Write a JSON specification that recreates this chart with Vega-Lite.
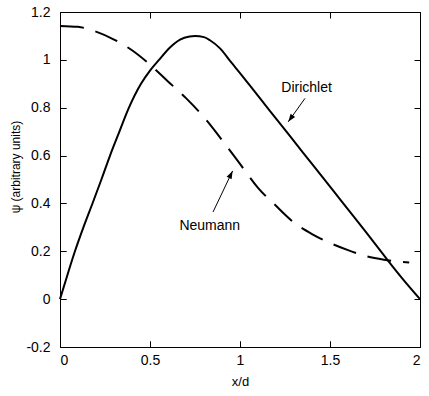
{
  "$schema": "https://vega.github.io/schema/vega-lite/v6.json",
  "autosize": "none",
  "width": 360,
  "height": 335,
  "padding": {"left": 60, "top": 12, "right": 9, "bottom": 49},
  "background": "white",
  "config": {
    "view": {"stroke": "black", "strokeWidth": 1},
    "axis": {
      "grid": false, "domain": false, "ticks": true, "tickColor": "black", "tickOpacity": 1, "tickSize": 6, "tickWidth": 1, "offset": -6,
      "labelFont": "Liberation Sans", "labelFontSize": 14, "labelColor": "black",
      "titleFont": "Liberation Sans", "titleFontWeight": "normal", "titleColor": "black", "titleFontSize": 13
    }
  },
  "datasets": {
    "dirichlet": [
      {"x": 0, "y": 0}, {"x": 0.04, "y": 0.098}, {"x": 0.083, "y": 0.2}, {"x": 0.13, "y": 0.3},
      {"x": 0.183, "y": 0.405}, {"x": 0.23, "y": 0.5}, {"x": 0.278, "y": 0.6}, {"x": 0.33, "y": 0.7},
      {"x": 0.38, "y": 0.795}, {"x": 0.45, "y": 0.9}, {"x": 0.5, "y": 0.955}, {"x": 0.55, "y": 1.0},
      {"x": 0.611, "y": 1.052}, {"x": 0.667, "y": 1.085}, {"x": 0.72, "y": 1.098}, {"x": 0.75, "y": 1.1},
      {"x": 0.8, "y": 1.095}, {"x": 0.833, "y": 1.082}, {"x": 0.889, "y": 1.048}, {"x": 0.954, "y": 0.987},
      {"x": 1.0, "y": 0.945}, {"x": 1.083, "y": 0.866}, {"x": 1.167, "y": 0.786}, {"x": 1.278, "y": 0.681},
      {"x": 1.4, "y": 0.565}, {"x": 1.519, "y": 0.452}, {"x": 1.6, "y": 0.375}, {"x": 1.7, "y": 0.28},
      {"x": 1.815, "y": 0.168}, {"x": 1.9, "y": 0.088}, {"x": 2.0, "y": 0.0}
    ],
    "neumann": [
      {"x": 0, "y": 1.142}, {"x": 0.1, "y": 1.138}, {"x": 0.2, "y": 1.118}, {"x": 0.3, "y": 1.085},
      {"x": 0.4, "y": 1.04}, {"x": 0.5, "y": 0.98}, {"x": 0.6, "y": 0.91}, {"x": 0.7, "y": 0.84},
      {"x": 0.8, "y": 0.76}, {"x": 0.9, "y": 0.665}, {"x": 1.0, "y": 0.565}, {"x": 1.1, "y": 0.465},
      {"x": 1.2, "y": 0.39}, {"x": 1.3, "y": 0.32}, {"x": 1.4, "y": 0.272}, {"x": 1.5, "y": 0.235},
      {"x": 1.6, "y": 0.205}, {"x": 1.7, "y": 0.18}, {"x": 1.8, "y": 0.165}, {"x": 1.94, "y": 0.153}
    ],
    "arrows": [
      {"label": "Dirichlet", "x": 1.361, "y": 0.839, "x2": 1.268, "y2": 0.741, "angle": 215.5, "tx": 1.37, "ty": 0.882},
      {"label": "Neumann", "x": 0.85, "y": 0.364, "x2": 0.959, "y2": 0.536, "angle": 26, "tx": 0.832, "ty": 0.306}
    ]
  },
  "layer": [
    {
      "data": {"name": "dirichlet"},
      "mark": {"type": "line", "color": "black", "strokeWidth": 2, "interpolate": "monotone"},
      "encoding": {
        "x": {"field": "x", "type": "quantitative",
              "scale": {"domain": [0, 2], "nice": false, "zero": false},
              "axis": {"orient": "bottom", "values": [0, 0.5, 1, 1.5, 2], "format": "~g", "labelPadding": 6, "ticks": true,
                       "title": "x/d", "titleY": 40, "titleBaseline": "middle"}},
        "y": {"field": "y", "type": "quantitative",
              "scale": {"domain": [-0.2, 1.2], "nice": false, "zero": false},
              "axis": {"orient": "left", "values": [-0.2, 0, 0.2, 0.4, 0.6, 0.8, 1, 1.2], "labelPadding": 10, "ticks": true,
                       "labelExpr": "datum.value < 0 ? '-' + format(-datum.value, '~g') : format(datum.value, '~g')",
                       "title": "ψ (arbitrary units)", "titleX": -51, "titleY": 154.5, "titleBaseline": "middle", "titleAngle": -90, "titleFontSize": 12}}
      }
    },
    {
      "data": {"name": "neumann"},
      "mark": {"type": "line", "color": "black", "strokeWidth": 2, "strokeDash": [24, 12], "interpolate": "monotone"},
      "encoding": {
        "x": {"field": "x", "type": "quantitative", "axis": null},
        "y": {"field": "y", "type": "quantitative", "axis": null}
      }
    },
    {
      "data": {"name": "neumann"},
      "mark": {"type": "point", "opacity": 0},
      "encoding": {
        "x": {"field": "x", "type": "quantitative",
              "axis": {"orient": "top", "values": [0, 0.5, 1, 1.5, 2], "labels": false, "title": null}},
        "y": {"field": "y", "type": "quantitative",
              "axis": {"orient": "right", "values": [-0.2, 0, 0.2, 0.4, 0.6, 0.8, 1, 1.2], "labels": false, "title": null}}
      }
    },
    {
      "data": {"name": "dirichlet"},
      "mark": {"type": "point", "opacity": 0},
      "encoding": {
        "x": {"field": "x", "type": "quantitative",
              "axis": {"orient": "bottom", "values": [0, 0.5, 1, 1.5, 2], "labels": false, "title": null, "ticks": true}},
        "y": {"field": "y", "type": "quantitative",
              "axis": {"orient": "left", "values": [-0.2, 0, 0.2, 0.4, 0.6, 0.8, 1, 1.2], "labels": false, "title": null, "ticks": true}}
      }
    },
    {
      "data": {"name": "arrows"},
      "mark": {"type": "rule", "color": "black", "strokeWidth": 1},
      "encoding": {
        "x": {"field": "x", "type": "quantitative", "axis": null},
        "y": {"field": "y", "type": "quantitative", "axis": null},
        "x2": {"field": "x2"},
        "y2": {"field": "y2"}
      }
    },
    {
      "data": {"name": "arrows"},
      "mark": {"type": "point", "shape": "M0,0L-0.35,1L0.35,1Z", "filled": true, "color": "black", "opacity": 1, "size": 256},
      "encoding": {
        "x": {"field": "x2", "type": "quantitative", "axis": null},
        "y": {"field": "y2", "type": "quantitative", "axis": null},
        "angle": {"field": "angle", "type": "quantitative", "scale": null}
      }
    },
    {
      "data": {"name": "arrows"},
      "mark": {"type": "text", "font": "Liberation Sans", "fontSize": 14, "color": "black", "align": "center", "baseline": "middle"},
      "encoding": {
        "x": {"field": "tx", "type": "quantitative", "axis": null},
        "y": {"field": "ty", "type": "quantitative", "axis": null},
        "text": {"field": "label"}
      }
    }
  ],
  "resolve": {"axis": {"x": "independent", "y": "independent"}}
}
